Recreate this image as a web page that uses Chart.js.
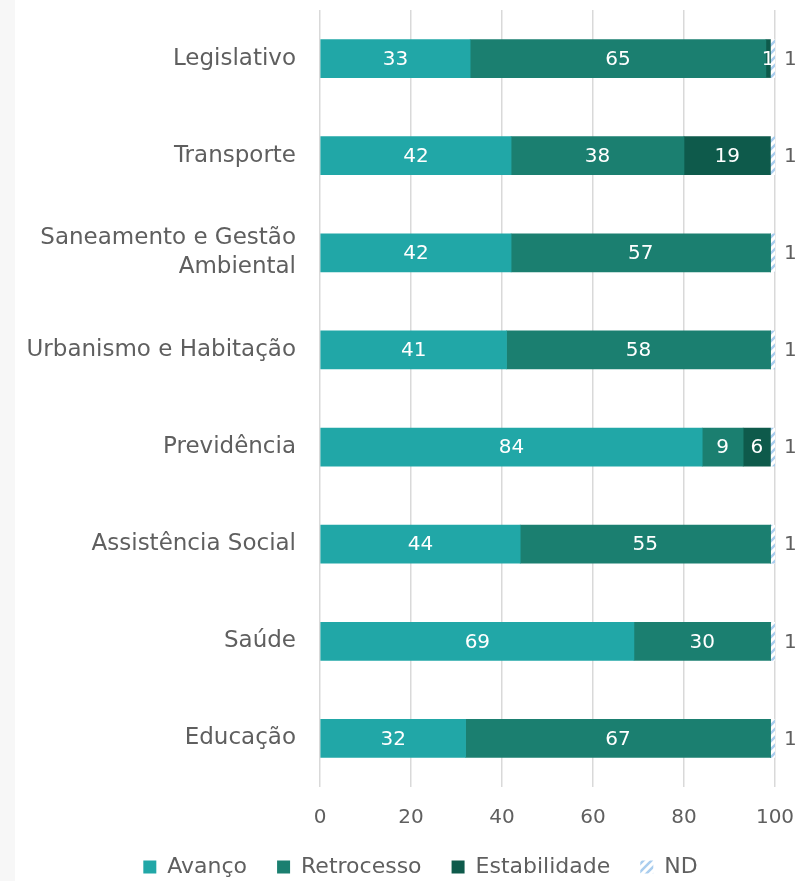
<!DOCTYPE html>
<html>
<head>
<meta charset="utf-8">
<script src="https://cdn.jsdelivr.net/npm/chart.js@4"></script>
<style>
html, body { margin: 0; padding: 0; background: #fff; }
#wrap { width: 810px; height: 881px; background: linear-gradient(to right, #f7f7f7 15px, #fff 15px); }
</style>
</head>
<body>
<div id="wrap"><canvas id="grafico" width="810" height="881"></canvas></div>
<script>
// categorias e valores (%)
const categorias = ['Legislativo', 'Transporte', ['Saneamento e Gestão', 'Ambiental'], 'Urbanismo e Habitação',
  'Previdência', 'Assistência Social', 'Saúde', 'Educação'];
const avanco = [33, 42, 42, 41, 84, 44, 69, 32];
const retrocesso = [65, 38, 57, 58, 9, 55, 30, 67];
const estabilidade = [1, 19, 0, 0, 6, 0, 0, 0];
const nd = [1, 1, 1, 1, 1, 1, 1, 1];
const eixoX = [0, 20, 40, 60, 80, 100];

const fonte = 'DejaVu Sans';
const cinza = '#5f5f5f';

// padrao listrado do ND
function hachura() {
  const c = document.createElement('canvas');
  c.width = 8; c.height = 8;
  const g = c.getContext('2d');
  g.fillStyle = '#fff';
  g.fillRect(0, 0, 8, 8);
  g.strokeStyle = '#a9cdee';
  g.lineWidth = 2.5;
  g.beginPath();
  g.moveTo(0, 8); g.lineTo(8, 0);
  g.moveTo(-2, 2); g.lineTo(2, -2);
  g.moveTo(6, 10); g.lineTo(10, 6);
  g.stroke();
  return g.createPattern(c, 'repeat');
}

// rotulos dos valores
const rotulos = {
  id: 'rotulos',
  afterLayout(chart) {
    // legenda um pouco mais para a direita
    chart.legend.left += 33;
    chart.legend.right += 33;
  },
  afterDatasetsDraw(chart) {
    const ctx = chart.ctx;
    ctx.save();
    ctx.font = '20px ' + fonte;
    ctx.textBaseline = 'middle';
    chart.data.datasets.forEach((ds, i) => {
      chart.getDatasetMeta(i).data.forEach((bar, j) => {
        const v = ds.data[j];
        if (!v) return;
        if (i === 3) {
          ctx.fillStyle = cinza;
          ctx.textAlign = 'left';
          ctx.fillText(v, bar.x + 9, bar.y + 1);
        } else {
          ctx.fillStyle = '#fff';
          ctx.textAlign = 'center';
          ctx.fillText(v, (bar.x + bar.base) / 2, bar.y + 1);
        }
      });
    });
    ctx.restore();
  }
};

const ctx = document.getElementById('grafico');
const grafico = new Chart(ctx, {
  type: 'bar',
  data: {
    labels: categorias,
    datasets: [
      { label: 'Avanço', data: avanco, backgroundColor: '#21a7a7' },
      { label: 'Retrocesso', data: retrocesso, backgroundColor: '#1b7f70' },
      { label: 'Estabilidade', data: estabilidade, backgroundColor: '#0e5a4b' },
      { label: 'ND', data: nd, backgroundColor: hachura() }
    ]
  },
  options: {
    indexAxis: 'y',
    responsive: false,
    animation: false,
    barThickness: 38,
    layout: { padding: { top: 10, right: 35, left: 0, bottom: -7 } },
    scales: {
      x: {
        stacked: true,
        min: 0,
        max: 100,
        afterBuildTicks: (s) => { s.ticks = eixoX.map(v => ({ value: v })); },
        grid: { color: '#d9d9d9', lineWidth: 1.5, drawTicks: false },
        border: { display: false },
        ticks: { color: cinza, font: { family: fonte, size: 20 }, padding: 19 },
        afterFit: (s) => { s.height = 39; s.paddingLeft = 0; s.paddingRight = 0; }
      },
      y: {
        stacked: true,
        grid: { display: false },
        border: { display: false },
        ticks: { color: cinza, font: { family: fonte, size: 23, lineHeight: 1.27 }, padding: 16 },
        afterFit: (s) => { s.width = 320; s.paddingTop = 0; s.paddingBottom = 0; }
      }
    },
    plugins: {
      legend: {
        position: 'bottom',
        labels: { color: cinza, font: { family: fonte, size: 22 }, boxWidth: 13, boxHeight: 13, padding: 30 }
      },
      tooltip: { enabled: false }
    }
  },
  plugins: [rotulos]
});
</script>
</body>
</html>
